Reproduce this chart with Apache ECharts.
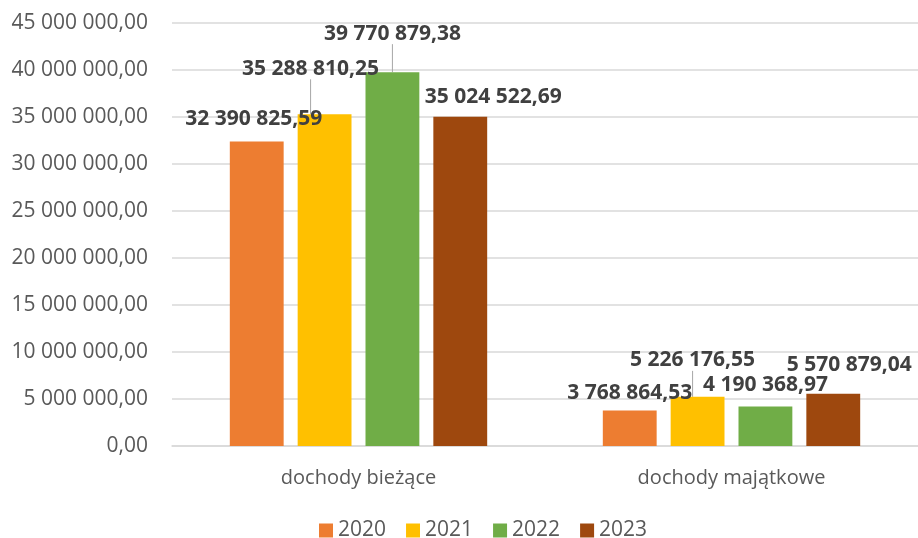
<!DOCTYPE html>
<html lang="pl">
<head>
  <meta charset="UTF-8">
  <title>Dochody</title>
  <script src="https://cdn.jsdelivr.net/npm/echarts@6/dist/echarts.min.js"></script>
  <style>
    html, body { margin: 0; padding: 0; background: #fff; }
    #chart { width: 918px; height: 538px; }
  </style>
</head>
<body>
<div id="chart"></div>
<script>
  // dane
  var categories = ['dochody bieżące', 'dochody majątkowe'];
  var years = ['2020', '2021', '2022', '2023'];
  var v2020 = [32390825.59, 3768864.53];
  var v2021 = [35288810.25, 5226176.55];
  var v2022 = [39770879.38, 4190368.97];
  var v2023 = [35024522.69, 5570879.04];
  var colors = ['#ED7D31', '#FFC000', '#70AD47', '#9E480E'];

  // przesunięcia etykiet (jak w oryginale)
  var labelShift = [
    [[-3, -7], [0, -2]],
    [[-14, -30], [-5, -21]],
    [[0, -23], [0, -6]],
    [[33, -4], [16, -13]]
  ];
  var showLine = [[false, false], [true, true], [true, false], [false, false]];

  function fmt(v) {
    var s = v.toFixed(2).split('.');
    return s[0].replace(/\B(?=(\d{3})+(?!\d))/g, ' ') + ',' + s[1];
  }

  var myChart = echarts.init(document.getElementById('chart'));
  var font = '"Open Sans", "Noto Sans", sans-serif';

  var seriesData = [v2020, v2021, v2022, v2023];
  var series = seriesData.map(function (vals, si) {
    return {
      name: years[si],
      type: 'bar',
      barGap: '26%',
      barCategoryGap: '31%',
      itemStyle: { color: colors[si] },
      data: vals.map(function (v, i) {
        return { value: v, labelLine: { show: showLine[si][i] } };
      }),
      label: {
        show: true,
        position: 'top',
        distance: 5,
        fontFamily: font,
        fontSize: 21,
        fontWeight: 'bold',
        color: '#404040',
        formatter: function (p) { return fmt(p.value); }
      },
      labelLine: {
        lineStyle: { color: '#A6A6A6', width: 1 }
      },
      labelLayout: function (p) {
        var d = labelShift[si][p.dataIndex];
        return { dx: d[0], dy: d[1] };
      }
    };
  });

  var option = {
    animation: false,
    color: colors,
    grid: { left: 172, top: 23, width: 752, height: 423 },
    legend: {
      top: 515,
      left: 314,
      itemWidth: 14,
      itemHeight: 14,
      itemGap: 20,
      icon: 'rect',
      textStyle: { fontFamily: font, fontSize: 21, color: '#595959' },
      data: years
    },
    xAxis: {
      type: 'category',
      data: categories,
      axisTick: { show: false },
      axisLine: { lineStyle: { color: '#D9D9D9', width: 1.5 } },
      axisLabel: { fontFamily: font, fontSize: 20, color: '#595959', margin: 22 }
    },
    yAxis: {
      type: 'value',
      min: 0,
      max: 45000000,
      interval: 5000000,
      axisLine: { show: false },
      axisTick: { show: false },
      splitLine: { lineStyle: { color: '#D9D9D9', width: 1.5 } },
      axisLabel: {
        fontFamily: font, fontSize: 21, color: '#595959', margin: 24,
        formatter: function (v) { return fmt(v); }
      }
    },
    series: series
  };
  myChart.setOption(option);
</script>
</body>
</html>
